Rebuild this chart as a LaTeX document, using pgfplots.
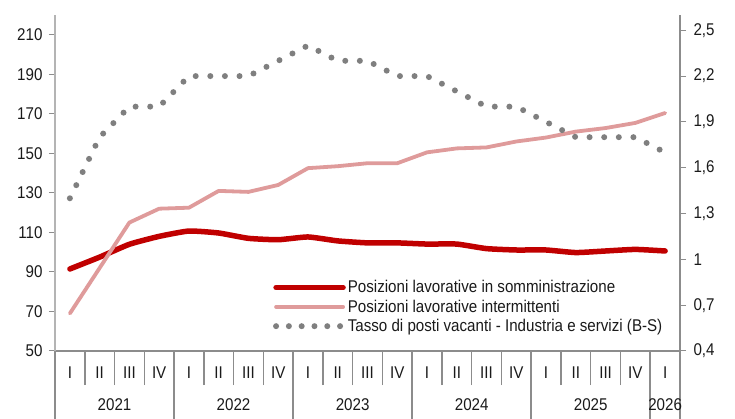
\documentclass[border=0pt]{standalone}
\usepackage{fontspec}
\setmainfont{Liberation Sans}[FakeStretch=0.89]
\usepackage{pgfplots}
\usepackage{pgfplotstable}
\pgfplotsset{compat=1.18}
\definecolor{cRed}{HTML}{C00000}
\definecolor{cPink}{HTML}{DF9B9B}
\definecolor{cDot}{HTML}{7F7F7F}
\definecolor{cAxis}{HTML}{8C8C8C}
\definecolor{cAxisL}{HTML}{B4B4B4}
\definecolor{cText}{HTML}{1A1A1A}
\newcommand{\chartfont}{\fontsize{17}{20}\selectfont}

\pgfplotsset{
  longline legend/.style={legend image code/.code={\draw[##1] (0pt,0pt) -- (67pt,0pt);}},
  dotline legend/.style={legend image code/.code={\draw[##1, dash pattern=on 0pt off 12.8pt] (0pt,0pt) -- (65pt,0pt);}},
}

\pgfplotstableread{
x som int tasso
0 91.5 69 1.4
1 97.5 92 1.8
2 104 115 2.0
3 108 122 2.0
4 110.7 122.5 2.2
5 109.7 131 2.2
6 107 130.5 2.2
7 106.3 134 2.3
8 107.7 142.5 2.4
9 105.7 143.5 2.3
10 104.7 145 2.3
11 104.7 145 2.2
12 104.1 150.5 2.2
13 104.1 152.5 2.1
14 101.8 153 2.0
15 101.1 156 2.0
16 101.1 158 1.9
17 99.8 161 1.8
18 100.6 162.8 1.8
19 101.4 165.4 1.8
20 100.6 170.4 1.7
}\data

\begin{document}
\begin{tikzpicture}
\useasboundingbox (-55pt,-68pt) rectangle (680pt,351pt);
\pgfplotsset{
  common/.style={
    at={(0,0)}, anchor=south west, scale only axis,
    width=625pt, height=336pt,
    xmin=-0.5, xmax=20.5,
    tick label style={font=\chartfont, text=cText},
    /pgf/number format/assume math mode=true,
  }
}
% x-axis separators and year labels
\begin{axis}[common,
  ymin=50, ymax=220,
  hide y axis,
  axis x line*=bottom,
  axis line style={-, draw=cAxis, line width=1.5pt},
  xtick={-0.5,3.5,7.5,11.5,15.5,19.5,20.5},
  xticklabels={},
  minor xtick={-0.5,0.5,...,20.5},
  major tick length=68pt, minor tick length=34pt,
  tick align=outside,
  tick style={draw=cAxis, line width=1.5pt},
  clip=false,
]
\addplot[draw=none] coordinates {(0,100)};
\node[font=\chartfont, text=cText] at (axis cs:1.5,50) [yshift=-54pt] {2021};
\node[font=\chartfont, text=cText] at (axis cs:5.5,50) [yshift=-54pt] {2022};
\node[font=\chartfont, text=cText] at (axis cs:9.5,50) [yshift=-54pt] {2023};
\node[font=\chartfont, text=cText] at (axis cs:13.5,50) [yshift=-54pt] {2024};
\node[font=\chartfont, text=cText] at (axis cs:17.5,50) [yshift=-54pt] {2025};
\node[font=\chartfont, text=cText] at (axis cs:20,50) [yshift=-54pt] {2026};
\end{axis}
% left axis
\begin{axis}[common,
  ymin=50, ymax=220,
  axis x line*=bottom, axis y line*=left,
  x axis line style={-, draw=cAxis, line width=1.5pt},
  y axis line style={-, draw=cAxisL, line width=1.5pt},
  ytick={50,70,...,210},
  yticklabel style={xshift=-3pt},
  xtick={0,...,20},
  xticklabels={I,II,III,IV,I,II,III,IV,I,II,III,IV,I,II,III,IV,I,II,III,IV,I},
  xticklabel style={yshift=-6pt},
  tick align=outside, major tick length=6pt,
  tick style={draw=cAxis, line width=1pt},
  major x tick style={draw=none, opacity=0},
]
\addplot[cRed, line width=5.5pt, line cap=round, smooth, tension=0.3] table[x=x, y=som] {\data};
\addplot[cPink, line width=3.8pt, line cap=round, line join=round] table[x=x, y=int] {\data};
\end{axis}
% right axis
\begin{axis}[common,
  ymin=0.4, ymax=2.6,
  hide x axis,
  axis y line*=right,
  y axis line style={-, draw=cAxis, line width=1.5pt},
  ytick={0.4,0.7,1,1.3,1.6,1.9,2.2,2.5},
  yticklabel style={xshift=4pt, /pgf/number format/.cd, fixed, precision=1, use comma},
  tick align=outside, major tick length=6pt,
  tick style={draw=cAxis, line width=1pt},
  legend style={at={(rel axis cs:0.347,0.219)}, anchor=north west, draw=none, fill=none,
    font=\chartfont, text=cText, row sep=1.5pt, inner sep=1pt},
  legend cell align=left,
]
\addlegendimage{cRed, line width=5.5pt, line cap=round, longline legend}
\addlegendentry{Posizioni lavorative in somministrazione}
\addlegendimage{cPink, line width=3.8pt, line cap=round, longline legend}
\addlegendentry{Posizioni lavorative intermittenti}
\addplot[cDot, line width=6pt, line cap=round, dash pattern=on 0pt off 14.6pt, dotline legend]
  table[x=x, y=tasso] {\data};
\addlegendentry{Tasso di posti vacanti - Industria e servizi (B-S)}
\end{axis}
\end{tikzpicture}
\end{document}
